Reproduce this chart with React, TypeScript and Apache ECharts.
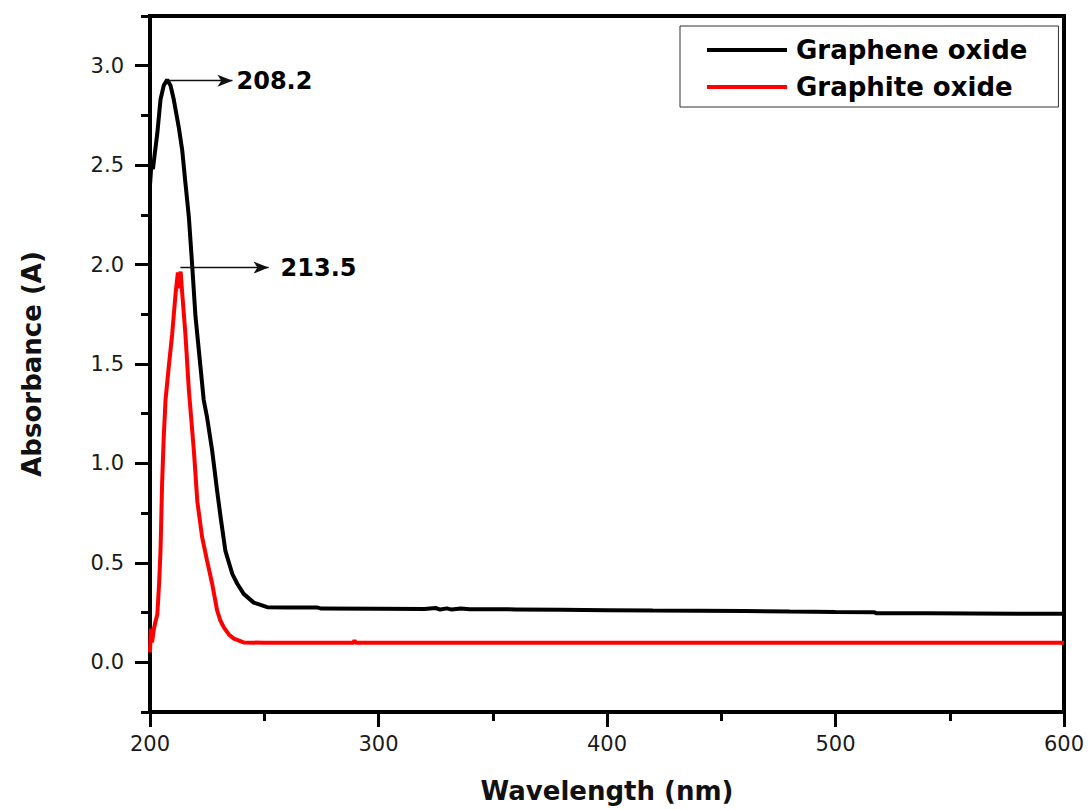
import React, { useEffect, useRef } from "react";
import * as echarts from "echarts";

// Graphene oxide (black)
const wavelengthGO = [
  200, 200.6, 201.3, 202, 203.2, 204.6, 206, 207.5, 209, 210.4, 212.6, 214.1, 215.5, 217, 218.5,
  219.9, 222.1, 223.5, 225, 227.2, 229.4, 230.9, 233, 236, 238.2, 241, 245.4, 251.3, 260, 273,
  275, 300, 320, 325, 327, 330, 332, 336, 340, 360, 380, 400, 420, 440, 460, 480, 500, 517,
  518, 540, 560, 580, 600,
];
const absorbanceGO = [
  2.40, 2.50, 2.48, 2.55, 2.66, 2.83, 2.90, 2.93, 2.90, 2.83, 2.69, 2.575, 2.41, 2.24, 1.99,
  1.74, 1.485, 1.32, 1.23, 1.065, 0.86, 0.73, 0.56, 0.445, 0.395, 0.344, 0.30, 0.277, 0.276, 0.276,
  0.27, 0.269, 0.268, 0.273, 0.265, 0.271, 0.265, 0.27, 0.267, 0.266, 0.264, 0.262, 0.26, 0.259, 0.258, 0.255, 0.253, 0.252,
  0.246, 0.246, 0.245, 0.244, 0.244,
];

// Graphite oxide (red)
const wavelengthGR = [
  200, 200.4, 200.9, 201.6, 202.3, 203.2, 204, 204.6, 205.3, 206, 206.8, 208.2, 209.7, 211.2,
  212.2, 212.8, 213.4, 214.1, 215.5, 217, 219.2, 220.7, 222.8, 225, 227.2, 229.4, 230.8, 232.3,
  234.5, 236.7, 241, 250, 289, 289.5, 290, 300, 400, 500, 600,
];
const absorbanceGR = [
  0.05, 0.17, 0.10, 0.16, 0.20, 0.24, 0.40, 0.56, 0.90, 1.13, 1.32, 1.485, 1.65, 1.855,
  1.96, 1.88, 1.965, 1.855, 1.65, 1.37, 1.065, 0.81, 0.63, 0.51, 0.395, 0.26, 0.21, 0.176,
  0.14, 0.119, 0.10, 0.098, 0.098, 0.11, 0.098, 0.098, 0.098, 0.098, 0.098,
];

const seriesNames = ["Graphene oxide", "Graphite oxide"];
const yMajorTicks = [0, 0.5, 1.0, 1.5, 2.0, 2.5, 3.0];
const yMinorTicks = [-0.25, 0.25, 0.75, 1.25, 1.75, 2.25, 2.75, 3.25];

// Peak annotations: [arrow start, arrow end], label
const peakGO = { label: "208.2", from: [206.8, 2.925], to: [236.1, 2.925] };
const peakGR = { label: "213.5", from: [213.3, 1.985], to: [251.9, 1.985] };

const zip = (xs: number[], ys: number[]) => xs.map((x, i) => [x, ys[i]]);

const FONT = "DejaVu Sans";

export default function App() {
  const ref = useRef<HTMLDivElement>(null);

  useEffect(() => {
    if (!ref.current) return;
    const chart = echarts.init(ref.current, undefined, { renderer: "svg" });

    const tickLabel = { fontSize: 21, fontFamily: FONT, color: "#1a1a1a" };
    const markLineFor = (p: typeof peakGO, distance: number) => ({
      silent: true,
      animation: false,
      symbol: ["none", "arrow"],
      symbolSize: [9, 15],
      lineStyle: { color: "#111", width: 1.3, type: "solid" },
      label: {
        show: true,
        position: "end",
        distance,
        formatter: p.label,
        fontSize: 24,
        fontWeight: "bold",
        fontFamily: FONT,
        color: "#000",
      },
      emphasis: { disabled: true },
      data: [[{ coord: p.from }, { coord: p.to }]],
    });

    chart.setOption({
      animation: false,
      backgroundColor: "#fff",
      grid: {
        left: 150,
        right: 24,
        top: 16,
        bottom: 97,
        show: true,
        borderColor: "#000",
        borderWidth: 4,
        containLabel: false,
      },
      legend: {
        orient: "vertical",
        left: 680,
        top: 26,
        padding: [11, 31, 7, 27],
        borderColor: "#333",
        borderWidth: 1,
        itemWidth: 80,
        itemHeight: 4,
        itemGap: 11,
        icon: "rect",
        data: seriesNames,
        textStyle: {
          fontSize: 26,
          fontWeight: "bold",
          fontFamily: FONT,
          color: "#000",
          lineHeight: 26,
          padding: [0, 0, 0, 4],
        },
      },
      xAxis: {
        type: "value",
        min: 200,
        max: 600,
        interval: 100,
        name: "Wavelength (nm)",
        nameLocation: "middle",
        nameGap: 66,
        nameTextStyle: { fontSize: 26, fontWeight: "bold", fontFamily: FONT, color: "#111" },
        axisLine: { show: true, onZero: false, lineStyle: { color: "#000", width: 4 } },
        axisTick: { show: true, inside: false, length: 15, lineStyle: { color: "#000", width: 3 } },
        minorTick: { show: true, splitNumber: 2, length: 9, lineStyle: { color: "#000", width: 3 } },
        axisLabel: { ...tickLabel, margin: 21 },
        splitLine: { show: false },
        minorSplitLine: { show: false },
      },
      yAxis: [
        {
          type: "value",
          min: -0.25,
          max: 3.25,
          position: "left",
          name: "Absorbance (A)",
          nameLocation: "middle",
          nameGap: 105,
          nameTextStyle: { fontSize: 26, fontWeight: "bold", fontFamily: FONT, color: "#111" },
          axisLine: { show: true, onZero: false, lineStyle: { color: "#000", width: 4 } },
          axisTick: {
            show: true,
            customValues: yMajorTicks,
            length: 15,
            lineStyle: { color: "#000", width: 3 },
          },
          axisLabel: {
            ...tickLabel,
            margin: 26,
            customValues: yMajorTicks,
            formatter: (v: number) => v.toFixed(1),
          },
          splitLine: { show: false },
        },
        {
          type: "value",
          min: -0.25,
          max: 3.25,
          position: "left",
          axisLine: { show: false, onZero: false },
          axisTick: {
            show: true,
            customValues: yMinorTicks,
            length: 9,
            lineStyle: { color: "#000", width: 3 },
          },
          axisLabel: { show: false },
          splitLine: { show: false },
        },
      ],
      series: [
        {
          name: seriesNames[0],
          type: "line",
          yAxisIndex: 0,
          data: zip(wavelengthGO, absorbanceGO),
          symbol: "none",
          lineStyle: { color: "#000", width: 4 },
          itemStyle: { color: "#000" },
          z: 3,
          markLine: markLineFor(peakGO, 4),
        },
        {
          name: seriesNames[1],
          type: "line",
          yAxisIndex: 0,
          data: zip(wavelengthGR, absorbanceGR),
          symbol: "none",
          lineStyle: { color: "#ff0000", width: 4 },
          itemStyle: { color: "#ff0000" },
          z: 2,
          markLine: markLineFor(peakGR, 12),
        },
      ],
    });

    return () => chart.dispose();
  }, []);

  return (
    <div
      ref={ref}
      style={{ position: "fixed", left: 0, top: 0, width: 1088, height: 809, background: "#fff" }}
    />
  );
}
